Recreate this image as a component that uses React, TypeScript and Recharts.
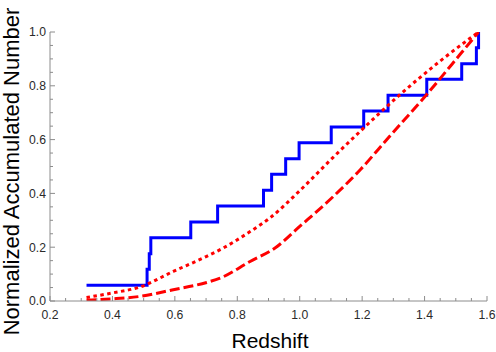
import React from 'react';
import { LineChart, Line, XAxis, YAxis } from 'recharts';

const xMajorTicks = [0.2, 0.4, 0.6, 0.8, 1.0, 1.2, 1.4, 1.6];
const xMinorTicks = [0.25, 0.3, 0.35, 0.45, 0.5, 0.55, 0.65, 0.7, 0.75, 0.85, 0.9, 0.95, 1.05, 1.1, 1.15, 1.25, 1.3, 1.35, 1.45, 1.5, 1.55];
const yMajorTicks = [0, 0.2, 0.4, 0.6, 0.8, 1.0];
const yMinorTicks = [0.05, 0.1, 0.15, 0.25, 0.3, 0.35, 0.45, 0.5, 0.55, 0.65, 0.7, 0.75, 0.85, 0.9, 0.95];

const observedZ = [0.317, 0.511, 0.518, 0.523, 0.651, 0.737, 0.884, 0.91, 0.955, 0.998, 1.101, 1.205, 1.283, 1.407, 1.519, 1.566, 1.573];
const observedFrac = [0.059, 0.118, 0.176, 0.235, 0.294, 0.353, 0.412, 0.471, 0.529, 0.588, 0.647, 0.706, 0.765, 0.824, 0.882, 0.941, 1.0];

const dottedZ = [0.317, 0.4, 0.488, 0.595, 0.702, 0.755, 0.841, 0.905, 1.0, 1.108, 1.194, 1.322, 1.45, 1.573];
const dottedFrac = [0.013, 0.03, 0.052, 0.11, 0.166, 0.197, 0.258, 0.309, 0.41, 0.535, 0.631, 0.768, 0.892, 1.0];

const dashedZ = [0.317, 0.4, 0.488, 0.595, 0.702, 0.745, 0.841, 0.921, 1.0, 1.108, 1.194, 1.284, 1.407, 1.514, 1.573];
const dashedFrac = [0.003, 0.008, 0.017, 0.042, 0.069, 0.085, 0.147, 0.197, 0.277, 0.389, 0.488, 0.607, 0.768, 0.917, 1.0];

const toRows = (xs: number[], ys: number[]) => xs.map((x, i) => ({ x, y: ys[i] }));
const observedData = toRows(observedZ, observedFrac);
const dottedData = toRows(dottedZ, dottedFrac);
const dashedData = toRows(dashedZ, dashedFrac);

const xTicks = [...xMajorTicks, ...xMinorTicks].sort((a, b) => a - b);
const yTicks = [...yMajorTicks, ...yMinorTicks].sort((a, b) => a - b);

const isMajor = (list: number[], v: number) => list.some((m) => Math.abs(m - v) < 1e-9);

const frameColor = '#8c8c8c';
const labelColor = '#2a2a2a';
const fontFamily = '"Liberation Sans", Arial, sans-serif';

const BottomTick = (props: any) => {
  const { x, y, payload } = props;
  const v = payload.value;
  const major = isMajor(xMajorTicks, v);
  return (
    <g>
      <line x1={x} x2={x} y1={y} y2={y - (major ? 5 : 3)} stroke={frameColor} strokeWidth={1} />
      {major && (
        <text x={x} y={y + 18} textAnchor="middle" fontSize={12.2} fill={labelColor} fontFamily={fontFamily}>
          {v.toFixed(1)}
        </text>
      )}
    </g>
  );
};

const TopTick = (props: any) => {
  const { x, y, payload } = props;
  const major = isMajor(xMajorTicks, payload.value);
  return <line x1={x} x2={x} y1={y} y2={y + (major ? 5 : 3)} stroke={frameColor} strokeWidth={1} />;
};

const LeftTick = (props: any) => {
  const { x, y, payload } = props;
  const v = payload.value;
  const major = isMajor(yMajorTicks, v);
  return (
    <g>
      <line x1={x} x2={x + (major ? 5 : 3)} y1={y} y2={y} stroke={frameColor} strokeWidth={1} />
      {major && (
        <text x={x - 4} y={y} dy="0.36em" textAnchor="end" fontSize={12.2} fill={labelColor} fontFamily={fontFamily}>
          {v.toFixed(1)}
        </text>
      )}
    </g>
  );
};

const RightTick = (props: any) => {
  const { x, y, payload } = props;
  const major = isMajor(yMajorTicks, payload.value);
  return <line x1={x} x2={x - (major ? 5 : 3)} y1={y} y2={y} stroke={frameColor} strokeWidth={1} />;
};

const renderXLabel = (props: any) => {
  const vb = props.viewBox || {};
  const cx = vb.x + vb.width / 2 + 1.5;
  return (
    <text x={cx} y={vb.y + vb.height - 4} textAnchor="middle" fontSize={21} fill="#000" fontFamily={fontFamily}>
      Redshift
    </text>
  );
};

const renderYLabel = (props: any) => {
  const vb = props.viewBox || {};
  const cx = 18.5;
  const cy = vb.y + vb.height / 2 + 5;
  return (
    <text
      x={cx}
      y={cy}
      transform={`rotate(-90, ${cx}, ${cy})`}
      textAnchor="middle"
      fontSize={22}
      fill="#000"
      fontFamily={fontFamily}
    >
      Normalized Accumulated Number
    </text>
  );
};

export default function App() {
  return (
    <div style={{ position: 'absolute', left: 0, top: 0, width: 496, height: 352, background: '#fff' }}>
      <LineChart width={496} height={352} margin={{ top: 32, right: 9, bottom: 0, left: 0 }}>
        <XAxis
          xAxisId="bottom"
          dataKey="x"
          type="number"
          orientation="bottom"
          domain={[0.2, 1.6]}
          ticks={xTicks}
          interval={0}
          height={51}
          tickSize={0}
          tickMargin={0}
          tickLine={false}
          axisLine={{ stroke: frameColor }}
          tick={<BottomTick />}
          allowDataOverflow
          label={renderXLabel}
        />
        <XAxis
          xAxisId="top"
          dataKey="x"
          type="number"
          orientation="top"
          domain={[0.2, 1.6]}
          ticks={xTicks}
          interval={0}
          height={0}
          tickSize={0}
          tickMargin={0}
          tickLine={false}
          axisLine={{ stroke: frameColor }}
          tick={<TopTick />}
          allowDataOverflow
        />
        <YAxis
          yAxisId="left"
          type="number"
          orientation="left"
          domain={[0, 1]}
          ticks={yTicks}
          interval={0}
          width={50}
          tickSize={0}
          tickMargin={0}
          tickLine={false}
          axisLine={{ stroke: frameColor }}
          tick={<LeftTick />}
          allowDataOverflow
          label={renderYLabel}
        />
        <YAxis
          yAxisId="right"
          type="number"
          orientation="right"
          domain={[0, 1]}
          ticks={yTicks}
          interval={0}
          width={0}
          tickSize={0}
          tickMargin={0}
          tickLine={false}
          axisLine={{ stroke: frameColor }}
          tick={<RightTick />}
          allowDataOverflow
        />
        <Line
          xAxisId="bottom"
          yAxisId="left"
          data={observedData}
          dataKey="y"
          type="stepAfter"
          stroke="#0000ff"
          strokeWidth={3}
          dot={false}
          activeDot={false}
          isAnimationActive={false}
        />
        <Line
          xAxisId="bottom"
          yAxisId="left"
          data={dottedData}
          dataKey="y"
          type="monotone"
          stroke="#ff0000"
          strokeWidth={3}
          strokeDasharray="3.5 3.5"
          dot={false}
          activeDot={false}
          isAnimationActive={false}
        />
        <Line
          xAxisId="bottom"
          yAxisId="left"
          data={dashedData}
          dataKey="y"
          type="monotone"
          stroke="#ff0000"
          strokeWidth={3}
          strokeDasharray="10 4"
          dot={false}
          activeDot={false}
          isAnimationActive={false}
        />
      </LineChart>
    </div>
  );
}
